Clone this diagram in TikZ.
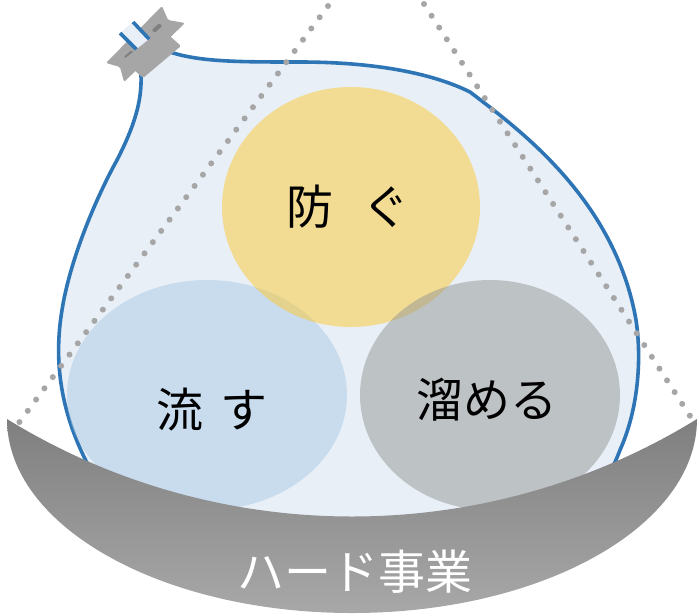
\documentclass[tikz,border=0pt]{standalone}
\usepackage{fontspec}
\newfontfamily\jpfont{Noto Sans CJK JP}
\usepackage{tikz}
\usetikzlibrary{shapes.geometric}
\definecolor{cSack}     {RGB}{232,239,247}
\definecolor{cSackLine} {RGB}{46,117,182}
\definecolor{cFlow}     {RGB}{170,203,229}
\definecolor{cGuard}    {RGB}{252,201,49}
\definecolor{cStore}    {RGB}{148,151,149}
\definecolor{cDot}      {RGB}{166,166,166}
\definecolor{cTie}      {RGB}{166,166,166}
\definecolor{cSlot}     {RGB}{127,127,127}
\definecolor{cBowlTop}  {RGB}{127,127,127}
\definecolor{cBowlBot}  {RGB}{168,168,168}
\tikzset{
  sack/.style={fill=cSack,draw=cSackLine,line width=3.6pt},
  blob/.style={ellipse,draw=none,inner sep=0pt,fill opacity=0.5,text opacity=1},
  lbl/.style={font=\jpfont\fontsize{47}{50}\selectfont,inner sep=0pt},
  dots/.style={cDot,line width=6pt,line cap=round,dash pattern=on 0pt off 14pt},
  tie/.style={fill=cTie,rounded corners=1.5pt},                    % ribbon and wrap
  slot/.style={rectangle,fill=cSlot,rounded corners=1pt,minimum width=10pt,
               minimum height=4pt,inner sep=0pt,rotate=42},        % slit in the ribbon
  bowl/.style={top color=cBowlTop,bottom color=cBowlBot},
}

\begin{document}
\begin{tikzpicture}[x=1pt,y=-1pt]
  \useasboundingbox (0,0) rectangle (698,614);
  % ribbon of the tie, behind the neck
  \fill[tie] (106,63) -- (162,6) -- (168,20) -- (185,23) -- (124,82) -- (120,67) -- cycle;
  \node[slot] (slotR) at (157,28) {};
  \node[slot] (slotL) at (129,55) {};
  % the sack, open at the neck
  \filldraw[sack] (133,22) -- (150,40) .. controls (158,47) and (163,50) .. (170,52)
    .. controls (200,62) and (240,62) .. (300,62)
    .. controls (370,62) and (430,72) .. (470,92)
    .. controls (520,130) and (615,200) .. (636,320)
    .. controls (642,360) and (638,410) .. (620,450)
    .. controls (605,490) and (580,520) .. (540,535)
    .. controls (450,560) and (250,560) .. (160,535)
    .. controls (120,520) and (100,495) .. (88,465)
    .. controls (65,420) and (52,370) .. (62,310)
    .. controls (70,260) and (95,200) .. (117,160)
    .. controls (135,125) and (142,100) .. (141,75)
    -- (139,52) -- (120,33);
  % three measures
  \node[blob,fill=cFlow, minimum width=280pt,minimum height=230pt] (nagasu) at (207,395) {};
  \node[blob,fill=cGuard,minimum width=258pt,minimum height=240pt] (fusegu) at (351,207) {};
  \node[blob,fill=cStore,minimum width=260pt,minimum height=230pt] (tameru) at (490,395) {};
  % dotted guide lines
  \coordinate (apexL) at (328,6);  \coordinate (tipL) at (18,424);
  \coordinate (apexR) at (424,4);  \coordinate (tipR) at (692,419);
  \draw[dots] (apexL) -- (tipL);
  \draw[dots] (apexR) -- (tipR);
  % bowl underneath
  \shade[bowl] (7,419) .. controls (218,549) and (486,549) .. (697,419)
    arc[start angle=0,end angle=180,x radius=345,y radius=194];
  % wrap of the tie, in front of the neck
  \fill[tie] (123,60) -- (162,29) -- (181,46) -- (143,78) -- cycle;
  % labels
  \node[lbl] (txtFusegu) at (348,207) {防\hspace{0.6em}ぐ};
  \node[lbl] (txtNagasu) at (212,410) {流\hspace{0.35em}す};
  \node[lbl] (txtTameru) at (487,400) {溜める};
  \node[lbl,text=white] (txtHard) at (355,572) {ハード事業};
\end{tikzpicture}
\end{document}
